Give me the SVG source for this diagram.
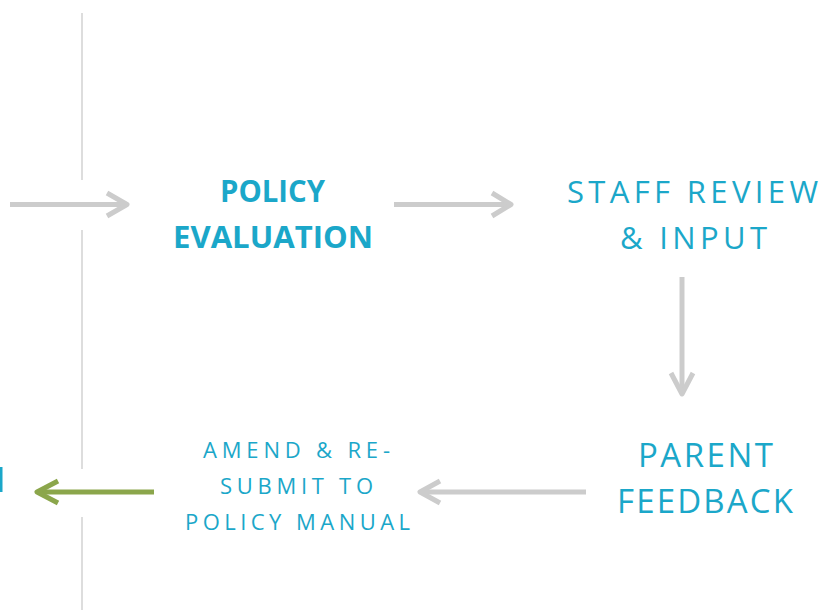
<svg xmlns="http://www.w3.org/2000/svg" width="832" height="610" viewBox="0 0 832 610">
<style>
.t{font-family:"Open Sans","Liberation Sans",sans-serif;fill:#1BA7C9;text-anchor:middle}
.b{font-weight:700}
.l{font-weight:400}
.c{fill:none;stroke-width:5;stroke-linejoin:round;stroke-linecap:butt}
.g{stroke:#CCCCCC}
.v{stroke:#8BA64B}
.div{stroke:#DDDDDD;stroke-width:2;fill:none}
</style>
<rect width="832" height="610" fill="#FFFFFF"/>
<g id="divider">
<line class="div" x1="82" y1="13" x2="82" y2="180"/>
<line class="div" x1="82" y1="230" x2="82" y2="469"/>
<line class="div" x1="82" y1="517" x2="82" y2="610"/>
</g>
<rect id="edge-fragment" x="0" y="467" width="2.5" height="25" fill="#1BA7C9"/>
<g id="node-policy-evaluation">
<text class="t b" x="272.5" y="202" font-size="30" textLength="105" lengthAdjust="spacingAndGlyphs">POLICY</text>
<text class="t b" x="273" y="248" font-size="30" textLength="200" lengthAdjust="spacingAndGlyphs">EVALUATION</text>
</g>
<g id="node-staff-review">
<text class="t l" x="692.5" y="203" font-size="31" textLength="251" lengthAdjust="spacing">STAFF REVIEW</text>
<text class="t l" x="693.5" y="249" font-size="31" textLength="147" lengthAdjust="spacing">&amp; INPUT</text>
</g>
<g id="node-parent-feedback">
<text class="t l" x="705.5" y="467" font-size="33" textLength="135" lengthAdjust="spacing">PARENT</text>
<text class="t l" x="705" y="513" font-size="33" textLength="176" lengthAdjust="spacing">FEEDBACK</text>
</g>
<g id="node-amend">
<text class="t l" x="296.5" y="458" font-size="22" textLength="187" lengthAdjust="spacing">AMEND &amp; RE-</text>
<text class="t l" x="296.5" y="494" font-size="22" textLength="153" lengthAdjust="spacing">SUBMIT TO</text>
<text class="t l" x="297.5" y="530" font-size="22" textLength="225" lengthAdjust="spacing">POLICY MANUAL</text>
</g>
<g id="connectors">
<path class="c g" d="M10,204.5 H127"/>
<path class="c g" d="M107,193 L127,204.5 L107,216"/>
<path class="c g" d="M394,204.5 H511"/>
<path class="c g" d="M492,193 L511,204.5 L492,216"/>
<path class="c g" d="M682,277 V394"/>
<path class="c g" d="M671,373 L682,394 L693,373"/>
<path class="c g" d="M586,492 H420"/>
<path class="c g" d="M440,481 L420,492 L440,503"/>
<path class="c v" d="M154,492 H37"/>
<path class="c v" d="M58,481 L37,492 L58,503"/>
</g>
</svg>
